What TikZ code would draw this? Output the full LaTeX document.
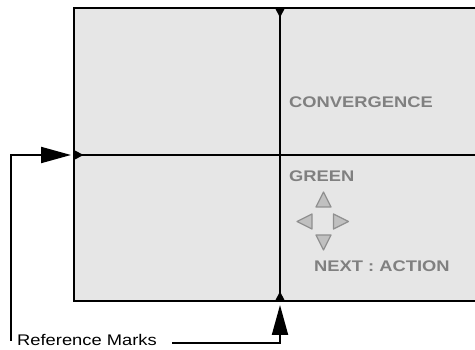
\documentclass[tikz,border=0pt]{standalone}
\usepackage{fontspec}
\setmainfont{Liberation Sans}
\usetikzlibrary{arrows.meta}
\definecolor{panelgray}{HTML}{E6E6E6}
\definecolor{textgray}{HTML}{808080}
\definecolor{navfill}{HTML}{C0C0C0}
\definecolor{navline}{HTML}{909090}
\newcommand{\wide}[1]{\scalebox{1.19}[1]{#1}}
\tikzset{
  screenlbl/.style={anchor=base west,inner sep=0pt,text=textgray,
    font=\bfseries\fontsize{15.4}{18}\selectfont},
  navtri/.style={fill=navfill,draw=navline,line width=1.2pt,line join=round},
  refarrow/.style={line width=2pt,-{Triangle[length=30pt,width=16pt]}}
}
\begin{document}
\begin{tikzpicture}[x=1pt,y=-1pt]
\useasboundingbox (0,0) rectangle (475,350);
\filldraw[fill=panelgray,line width=2pt] (74,8) rectangle (478,301);
\draw[line width=2pt] (280,8) -- (280,301);
\draw[line width=2pt] (74,155) -- (478,155);
% reference marks on the screen edges
\foreach \a/\x/\y in {270/280/8, 0/74/155, 90/280/301}
\fill[shift={(\x,\y)},rotate=\a] (0,5) -- (0,-5) -- (9.5,0) -- cycle;
\node[screenlbl] (conv) at (289,108) {\wide{CONVERGENCE}};
\node[screenlbl] (green) at (289,182) {\wide{GREEN}};
\node[screenlbl] (next) at (314,272) {\wide{NEXT : ACTION}};
% arrow keys
\foreach \a/\x/\y in {90/323.5/199.5, 180/304.5/221.5, 0/341/221.5, 270/323.5/242.5}
\draw[navtri,shift={(\x,\y)},rotate=\a] (7.5,0) -- (-7.5,7.5) -- (-7.5,-7.5) -- cycle;
\node[anchor=base west,inner sep=0pt,font=\fontsize{15.4}{18}\selectfont] (refmarks) at (17,346) {\wide{Reference Marks}};
\coordinate (leftend) at (11,341);
\coordinate (leftmark) at (71,155);
\coordinate (rightend) at (172,343);
\coordinate (botmark) at (280,305);
\draw[refarrow] (leftend) |- (leftmark);
\draw[refarrow] (rightend) -| (botmark);
\end{tikzpicture}
\end{document}
